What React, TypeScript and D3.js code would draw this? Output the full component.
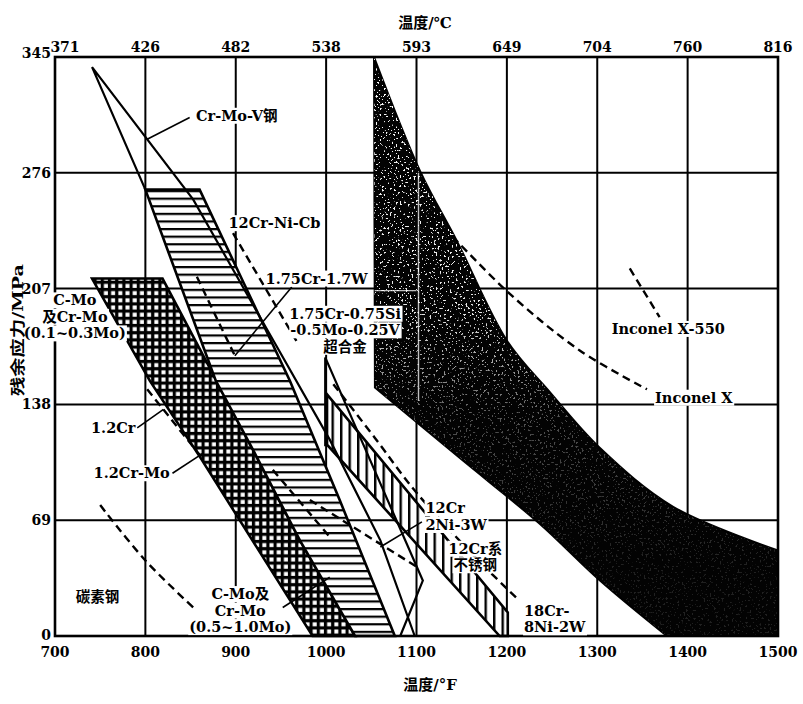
import React, { useEffect, useRef } from "react";
import * as d3 from "d3";

const W = 803;
const H = 704;

// Axis ticks: temperature in °F (bottom) with its °C equivalent (top), residual stress in MPa.
const fTicks = [700, 800, 900, 1000, 1100, 1200, 1300, 1400, 1500];
const cTicks = ["371", "426", "482", "538", "593", "649", "704", "760", "816"];
const stressTicks = [0, 69, 138, 207, 276, 345];

type P = [number, number]; // [°F, MPa]

// C-Mo / Cr-Mo steels (cross-hatched band)
const cMoBand: P[] = [
  [741, 213], [819, 213], [919, 111], [971, 57], [1032, 0],
  [985, 0], [860, 107], [805, 152],
];
// 1.75Cr-1.7W (horizontally hatched band)
const crWBand: P[] = [
  [800, 266], [860, 266], [910, 209], [960, 152], [1015, 81], [1076, 0],
  [1032, 0], [971, 57], [919, 111], [878, 152],
];
// Cr-Mo-V steel envelope (outline)
const crMoV: P[] = [
  [800, 266], [741, 339], [853, 260], [929, 188], [1004, 117], [1060, 57], [1098, 0],
];
// 1.75Cr-0.75Si-0.5Mo-0.25V envelope (outline)
const crSiMoV: P[] = [[999, 113], [999, 166], [1107, 33], [1082, 0]];
// 12Cr stainless steels (vertically hatched band)
const cr12Band: P[] = [[1001, 144], [1201, 14], [1201, 0], [1192, 0], [1001, 114]];
// Superalloys (dark band)
const superUpper: P[] = [
  [1053, 345], [1104, 277], [1145, 235], [1200, 176], [1248, 145],
  [1303, 112], [1384, 77], [1500, 51],
];
const superLower: P[] = [[1377, 0], [1303, 33], [1236, 67], [1148, 106], [1054, 148]];

// Single-alloy curves (dashed)
const carbonSteel: P[] = [[750, 78], [800, 45], [853, 17]];
const cr12NiCb: P[] = [[897, 240], [968, 175]];
const cr12: P[] = [[802, 147], [860, 108]];
const crWMid1: P[] = [[857, 214], [899, 167]];
const crWMid2: P[] = [[941, 99], [1004, 59]];
const cr12Ni2W3: P[] = [[982, 81], [1104, 40]];
const cr18Ni8W2: P[] = [[1008, 150], [1054, 118], [1096, 88], [1137, 63], [1174, 42], [1214, 21]];
const inconelX: P[] = [[1140, 238], [1203, 204], [1281, 170], [1355, 147]];
const inconelX550: P[] = [[1336, 219], [1369, 190]];

// Leader lines from labels to the curves they name
const leaders: P[][] = [
  [[849, 309], [802, 296]],
  [[962, 208], [899, 167]],
  [[791, 124], [820, 135]],
  [[830, 97], [864, 109]],
  [[952, 17], [1004, 35]],
  [[1106, 68], [1060, 53]],
];

// Annotations: lines of text, anchor position in data units, alignment
type Label = { lines: string[]; at: P; anchor: "start" | "middle" | "end" };
const labels: Label[] = [
  { lines: ["Cr-Mo-V钢"], at: [856, 307], anchor: "start" },
  { lines: ["12Cr-Ni-Cb"], at: [892, 243], anchor: "start" },
  { lines: ["1.75Cr-1.7W"], at: [933, 210], anchor: "start" },
  { lines: ["1.75Cr-0.75Si", "-0.5Mo-0.25V", "超合金"], at: [1021, 189], anchor: "middle" },
  { lines: ["C-Mo", "及Cr-Mo", "(0.1~0.3Mo)"], at: [722, 197], anchor: "middle" },
  { lines: ["1.2Cr"], at: [789, 121], anchor: "end" },
  { lines: ["1.2Cr-Mo"], at: [827, 94], anchor: "end" },
  { lines: ["碳素钢"], at: [747, 20], anchor: "middle" },
  { lines: ["C-Mo及", "Cr-Mo", "(0.5~1.0Mo)"], at: [905, 22], anchor: "middle" },
  { lines: ["Inconel X-550"], at: [1316, 180], anchor: "start" },
  { lines: ["Inconel X"], at: [1364, 139], anchor: "start" },
  { lines: ["12Cr", "2Ni-3W"], at: [1110, 73], anchor: "start" },
  { lines: ["12Cr系", "不锈钢"], at: [1165, 49], anchor: "middle" },
  { lines: ["18Cr-", "8Ni-2W"], at: [1219, 12], anchor: "start" },
];

const FONT = "'DejaVu Serif', 'Noto Sans CJK SC', serif";

export default function App() {
  const ref = useRef<SVGSVGElement>(null);

  useEffect(() => {
    const svg = d3.select(ref.current!);
    svg.selectAll("*").remove();

    const x = d3.scaleLinear().domain([700, 1500]).range([55, 778]);
    const y = d3.scaleLinear().domain([0, 345]).range([636, 57]);
    const lin = d3.line<P>().x((d) => x(d[0])).y((d) => y(d[1]));
    const smooth = d3
      .line<P>()
      .x((d) => x(d[0]))
      .y((d) => y(d[1]))
      .curve(d3.curveCatmullRom.alpha(0.5));

    const defs = svg.append("defs");

    // grid (cross) hatch: black lattice with small white cells
    const pc = defs.append("pattern").attr("id", "hatch-grid").attr("patternUnits", "userSpaceOnUse")
      .attr("width", 7.2).attr("height", 7.2);
    pc.append("rect").attr("width", 7.2).attr("height", 7.2).attr("fill", "#000");
    pc.append("rect").attr("x", 3.1).attr("y", 3.1).attr("width", 4).attr("height", 4).attr("fill", "#fff");

    // horizontal hatch
    const ph = defs.append("pattern").attr("id", "hatch-h").attr("patternUnits", "userSpaceOnUse")
      .attr("width", 8).attr("height", 7.6);
    ph.append("rect").attr("width", 8).attr("height", 7.6).attr("fill", "#fff");
    ph.append("rect").attr("width", 8).attr("height", 2.2).attr("fill", "#000");

    // vertical hatch
    const pv = defs.append("pattern").attr("id", "hatch-v").attr("patternUnits", "userSpaceOnUse")
      .attr("width", 8.5).attr("height", 8);
    pv.append("rect").attr("width", 8.5).attr("height", 8).attr("fill", "#fff");
    pv.append("rect").attr("width", 2.4).attr("height", 8).attr("fill", "#000");

    // speckle texture for the dark band
    const f = defs.append("filter").attr("id", "speck").attr("x", 0).attr("y", 0)
      .attr("width", "100%").attr("height", "100%");
    f.append("feTurbulence").attr("type", "fractalNoise").attr("baseFrequency", 0.5)
      .attr("numOctaves", 2).attr("seed", 7);
    f.append("feColorMatrix").attr("type", "matrix")
      .attr("values", "0 0 0 0 1  0 0 0 0 1  0 0 0 0 1  24 0 0 0 -15.2");

    const grad = defs.append("linearGradient").attr("id", "speck-fade")
      .attr("gradientUnits", "userSpaceOnUse").attr("x1", 0).attr("y1", y(345)).attr("x2", 0).attr("y2", y(40));
    grad.append("stop").attr("offset", 0).attr("stop-color", "#fff").attr("stop-opacity", 1);
    grad.append("stop").attr("offset", 0.5).attr("stop-color", "#fff").attr("stop-opacity", 0.9);
    grad.append("stop").attr("offset", 0.72).attr("stop-color", "#fff").attr("stop-opacity", 0.3);
    grad.append("stop").attr("offset", 1).attr("stop-color", "#fff").attr("stop-opacity", 0.12);
    const mask = defs.append("mask").attr("id", "speck-mask");
    mask.append("rect").attr("x", 0).attr("y", 0).attr("width", W).attr("height", H).attr("fill", "url(#speck-fade)");

    svg.append("rect").attr("width", W).attr("height", H).attr("fill", "#fff");

    // grid
    const grid = svg.append("g").attr("stroke", "#000").attr("stroke-width", 2);
    grid.selectAll("line.v").data(fTicks.slice(1, -1)).join("line")
      .attr("class", "v")
      .attr("x1", (d) => x(d)).attr("x2", (d) => x(d)).attr("y1", y(345)).attr("y2", y(0));
    grid.selectAll("line.h").data(stressTicks.slice(1, -1)).join("line")
      .attr("class", "h")
      .attr("x1", x(700)).attr("x2", x(1500)).attr("y1", (d) => y(d)).attr("y2", (d) => y(d));

    // superalloy band
    const bandPath =
      smooth(superUpper)! +
      "L" + x(1500) + "," + y(0) +
      smooth(superLower)!.replace(/^M/, "L") + "Z";
    defs.append("clipPath").attr("id", "super-clip").append("path").attr("d", bandPath);
    svg.append("path").attr("d", bandPath).attr("fill", "#030303").attr("stroke", "#000").attr("stroke-width", 2);
    const speck = svg.append("g").attr("clip-path", "url(#super-clip)");
    speck.append("g").attr("mask", "url(#speck-mask)")
      .append("rect").attr("x", x(1040)).attr("y", y(345)).attr("width", x(1500) - x(1040))
      .attr("height", y(0) - y(345)).attr("filter", "url(#speck)");
    // grid lines show faintly through the upper part of the band
    const ghost = speck.append("g").attr("stroke", "#fff").attr("stroke-opacity", 0.75).attr("stroke-width", 1.4);
    ghost.append("line").attr("x1", x(1100) + 2).attr("x2", x(1100) + 2).attr("y1", y(276)).attr("y2", y(140));
    ghost.append("line").attr("x1", x(1053)).attr("x2", x(1100)).attr("y1", y(207) + 2).attr("y2", y(207) + 2);

    // hatched bands
    const bands: [P[], string][] = [
      [cMoBand, "url(#hatch-grid)"],
      [crWBand, "url(#hatch-h)"],
      [cr12Band, "url(#hatch-v)"],
    ];
    svg.selectAll("path.band").data(bands).join("path")
      .attr("class", "band")
      .attr("d", (d) => lin(d[0])! + "Z")
      .attr("fill", (d) => d[1])
      .attr("stroke", "#000").attr("stroke-width", 2.6).attr("stroke-linejoin", "miter");

    // outlines
    svg.selectAll("path.outline").data([crMoV, crSiMoV]).join("path")
      .attr("class", "outline")
      .attr("d", (d) => lin(d)!)
      .attr("fill", "none").attr("stroke", "#000").attr("stroke-width", 2.2);

    // dashed single-alloy curves
    const dashed = [carbonSteel, cr12NiCb, cr12, crWMid1, crWMid2, cr12Ni2W3, cr18Ni8W2, inconelX, inconelX550];
    svg.selectAll("path.dash").data(dashed).join("path")
      .attr("class", "dash")
      .attr("d", (d) => smooth(d)!)
      .attr("fill", "none").attr("stroke", "#000").attr("stroke-width", 2.4)
      .attr("stroke-dasharray", "8,5");

    // leader lines
    svg.selectAll("path.leader").data(leaders).join("path")
      .attr("class", "leader")
      .attr("d", (d) => lin(d)!)
      .attr("fill", "none").attr("stroke", "#000").attr("stroke-width", 1.6);

    // frame
    svg.append("rect").attr("x", x(700)).attr("y", y(345)).attr("width", x(1500) - x(700))
      .attr("height", y(0) - y(345)).attr("fill", "none").attr("stroke", "#000").attr("stroke-width", 2.6);

    // annotation labels with white backing
    const lh = 16.5;
    labels.forEach((lb) => {
      const g = svg.append("g");
      lb.lines.forEach((s, i) => {
        const t = g.append("text")
          .attr("x", x(lb.at[0]))
          .attr("y", y(lb.at[1]) + i * lh)
          .attr("text-anchor", lb.anchor)
          .attr("font-family", FONT).attr("font-weight", 700).attr("font-size", 14.5)
          .text(s);
        const bb = (t.node() as SVGTextElement).getBBox();
        g.insert("rect", () => t.node() as SVGTextElement)
          .attr("x", bb.x - 1).attr("y", bb.y + 1).attr("width", bb.width + 2).attr("height", bb.height - 1)
          .attr("fill", "#fff");
      });
    });

    // tick labels
    const tick = svg.append("g").attr("font-family", FONT).attr("font-weight", 700).attr("font-size", 14);
    tick.selectAll("text.b").data(fTicks).join("text").attr("class", "b")
      .attr("x", (d) => x(d)).attr("y", 657).attr("text-anchor", "middle").text((d) => d);
    tick.selectAll("text.t").data(cTicks).join("text").attr("class", "t")
      .attr("x", (d, i) => x(fTicks[i]) + (i === 0 ? 10 : 0)).attr("y", 52)
      .attr("text-anchor", "middle").text((d) => d);
    tick.selectAll("text.l").data(stressTicks).join("text").attr("class", "l")
      .attr("x", 51).attr("y", (d) => y(d) + (d === 345 ? 1 : 5) + (d === 0 ? -1 : 0))
      .attr("text-anchor", "end").text((d) => d);

    // axis titles
    const title = svg.append("g").attr("font-family", FONT).attr("font-weight", 700).attr("font-size", 15);
    title.append("text").attr("x", 425).attr("y", 28).attr("text-anchor", "middle").text("温度/℃");
    title.append("text").attr("x", 430).attr("y", 690).attr("text-anchor", "middle").text("温度/°F");
    title.append("text")
      .attr("transform", "translate(23,330) rotate(-90)")
      .attr("text-anchor", "middle")
      .attr("textLength", 132).attr("lengthAdjust", "spacingAndGlyphs")
      .text("残余应力/MPa");
  }, []);

  return (
    <svg
      ref={ref}
      width={W}
      height={H}
      style={{ position: "absolute", left: 0, top: 0, background: "#fff" }}
    />
  );
}
